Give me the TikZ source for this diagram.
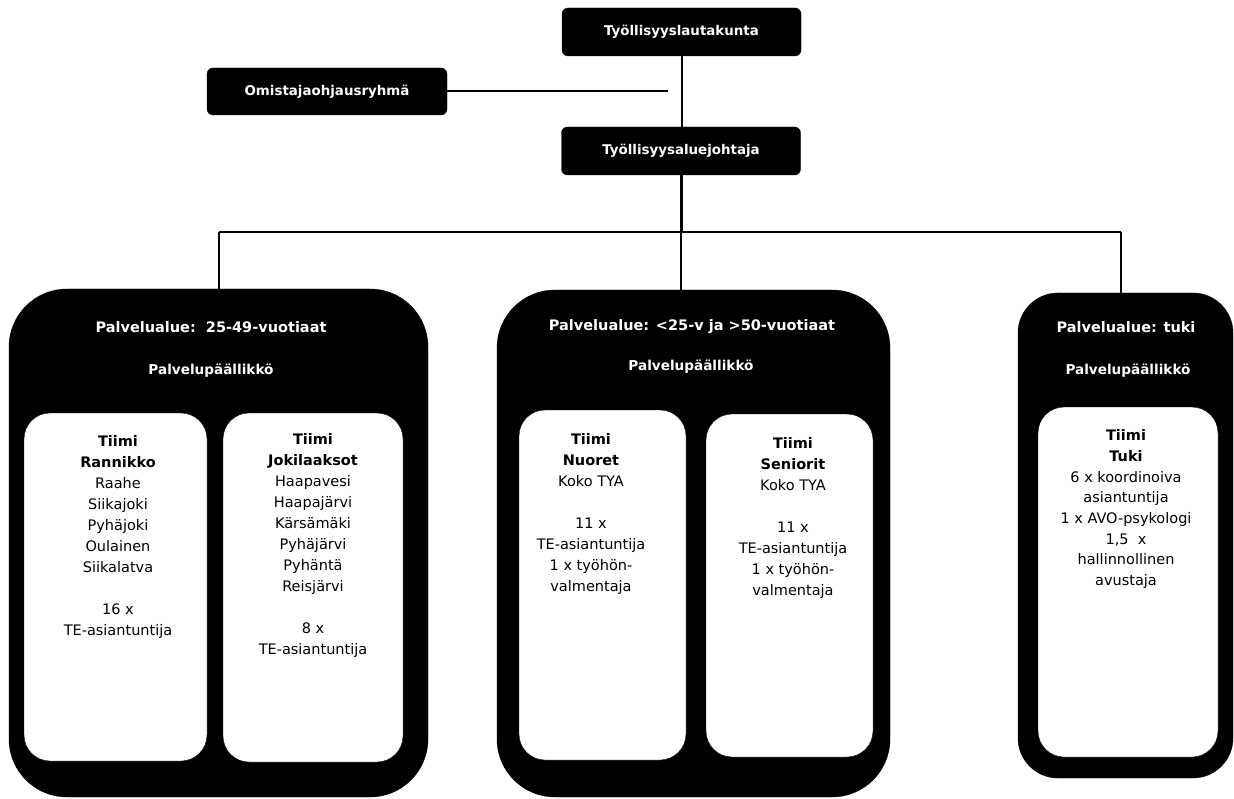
\documentclass[tikz,border=0pt]{standalone}
\usepackage{fontspec}
\setmainfont{DejaVu Sans}
\begin{document}
\begin{tikzpicture}[x=1pt,y=-1pt,
  blackbox/.style={draw=black, fill=black, rounded corners=6pt, text=white,
    font=\fontsize{13.4}{16}\selectfont\bfseries, inner sep=0pt},
  area/.style={draw=black, fill=black, inner sep=0pt},
  team/.style={draw=black, fill=white, inner sep=0pt, rounded corners=26pt},
  teamtext/.style={align=center, anchor=north, inner sep=0pt,
    font=\fontsize{14.5}{21}\selectfont},
  areatitle/.style={text=white, anchor=base, inner sep=0pt,
    font=\fontsize{14.5}{17}\selectfont\bfseries},
  areasub/.style={text=white, anchor=base, inner sep=0pt,
    font=\fontsize{13.6}{16}\selectfont\bfseries},
  conn/.style={line width=2pt}]
\useasboundingbox (0,0) rectangle (1234,799);

% top level boxes
\node[blackbox, minimum width=239pt, minimum height=48pt] (lauta) at (681.5,32) {Työllisyyslautakunta};
\node[blackbox, minimum width=240pt, minimum height=47pt] (omist) at (327,91.5) {Omistajaohjausryhmä};
\node[blackbox, minimum width=239pt, minimum height=48pt] (johtaja) at (681,151) {Työllisyysaluejohtaja};

% service areas
\node[area, rounded corners=58pt, minimum width=419pt, minimum height=508pt] (area1) at (218.5,543) {};
\node[area, rounded corners=58pt, minimum width=393pt, minimum height=507pt] (area2) at (693.5,543.5) {};
\node[area, rounded corners=40pt, minimum width=215pt, minimum height=485pt] (area3) at (1125.5,535.5) {};

\node[areatitle] (a1t) at (211,332.5) {Palvelualue:\ \ 25-49-vuotiaat};
\node[areasub] (a1s) at (211,374) {Palvelupäällikkö};
\node[areatitle] (a2t) at (692,330.5) {Palvelualue: <25-v ja >50-vuotiaat};
\node[areasub] (a2s) at (691,371) {Palvelupäällikkö};
\node[areatitle] (a3t) at (1126,332.5) {Palvelualue: tuki};
\node[areasub] (a3s) at (1128,374) {Palvelupäällikkö};

% team boxes
\node[team, minimum width=183pt, minimum height=348pt] (t1) at (115.5,587) {};
\node[team, minimum width=180pt, minimum height=349pt] (t2) at (313,587.5) {};
\node[team, minimum width=167pt, minimum height=350pt] (t3) at (602.5,585) {};
\node[team, minimum width=167pt, minimum height=343pt] (t4) at (789.5,585.5) {};
\node[team, minimum width=180pt, minimum height=350pt] (t5) at (1128,582) {};

\node[teamtext] (t1x) at (118,435.5) {\textbf{Tiimi}\\\textbf{Rannikko}\\Raahe\\Siikajoki\\Pyhäjoki\\Oulainen\\Siikalatva\\[21pt]16 x\\TE-asiantuntija};
\node[teamtext] (t2x) at (313,433.5) {\textbf{Tiimi}\\\textbf{Jokilaaksot}\\Haapavesi\\Haapajärvi\\Kärsämäki\\Pyhäjärvi\\Pyhäntä\\Reisjärvi\\[21pt]8 x\\TE-asiantuntija};
\node[teamtext] (t3x) at (591,433.5) {\textbf{Tiimi}\\\textbf{Nuoret}\\Koko TYA\\[21pt]11 x\\TE-asiantuntija\\1 x työhön-\\valmentaja};
\node[teamtext] (t4x) at (793,437.5) {\textbf{Tiimi}\\\textbf{Seniorit}\\Koko TYA\\[21pt]11 x\\TE-asiantuntija\\1 x työhön-\\valmentaja};
\node[teamtext, font=\fontsize{14.5}{20.7}\selectfont] (t5x) at (1126,429.5) {\textbf{Tiimi}\\\textbf{Tuki}\\6 x koordinoiva\\asiantuntija\\1 x AVO-psykologi\\1,5\ \ x\\hallinnollinen\\avustaja};

% connectors
\coordinate (omEnd) at (668,91.5);
\coordinate (hl) at (219,232);
\coordinate (hr) at (1121,232);
\coordinate (hub) at (johtaja.south |- hl);
\draw[conn] (omist.east) -- (omEnd);
\draw[conn] (lauta.south) -- (lauta.south |- johtaja.north);
\draw[line width=3pt] (johtaja.south) -- (hub);
\draw[conn] (hl) -- (hr);
\draw[conn] (hl) -- (hl |- area1.north);
\draw[conn] (hub) -- (hub |- area2.north);
\draw[conn] (hr) -- (hr |- area3.north);
\end{tikzpicture}
\end{document}
